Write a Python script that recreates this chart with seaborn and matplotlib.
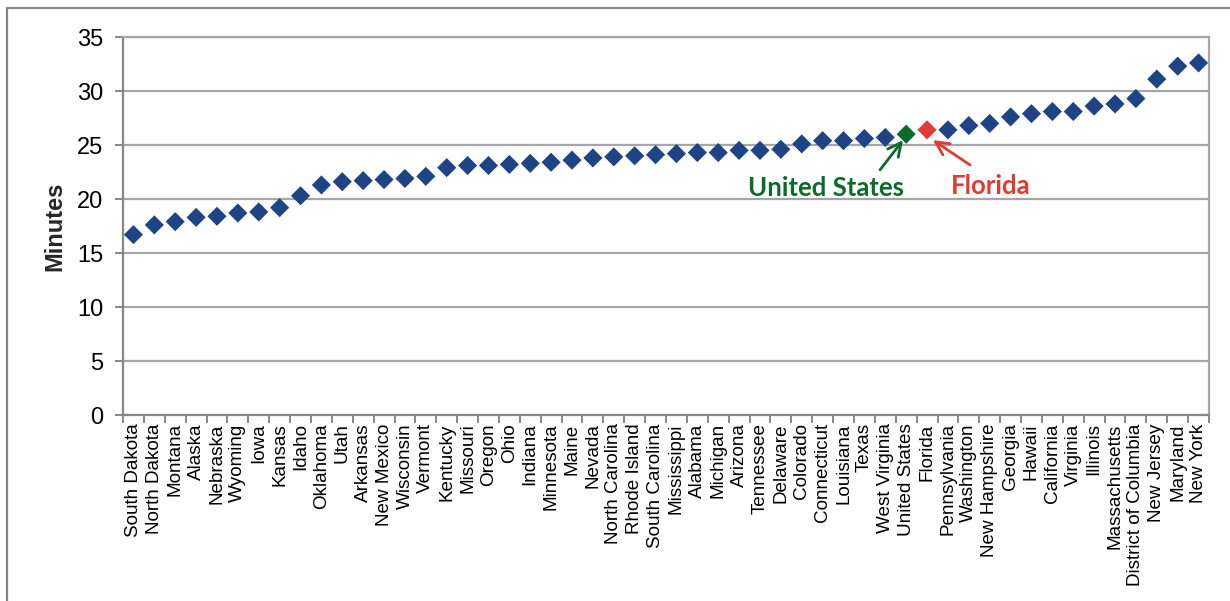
import matplotlib
matplotlib.use("Agg")
import matplotlib.pyplot as plt
from matplotlib.lines import Line2D
from matplotlib.ticker import FixedLocator
import seaborn as sns
import pandas as pd

states = ["South Dakota", "North Dakota", "Montana", "Alaska", "Nebraska", "Wyoming", "Iowa",
          "Kansas", "Idaho", "Oklahoma", "Utah", "Arkansas", "New Mexico", "Wisconsin", "Vermont",
          "Kentucky", "Missouri", "Oregon", "Ohio", "Indiana", "Minnesota", "Maine", "Nevada",
          "North Carolina", "Rhode Island", "South Carolina", "Mississippi", "Alabama", "Michigan",
          "Arizona", "Tennessee", "Delaware", "Colorado", "Connecticut", "Louisiana", "Texas",
          "West Virginia", "United States", "Florida", "Pennsylvania", "Washington",
          "New Hampshire", "Georgia", "Hawaii", "California", "Virginia", "Illinois",
          "Massachusetts", "District of Columbia", "New Jersey", "Maryland", "New York"]
minutes = [16.7, 17.6, 17.9, 18.3, 18.4, 18.7, 18.8,
           19.2, 20.3, 21.3, 21.6, 21.7, 21.8, 21.9, 22.1,
           22.9, 23.1, 23.1, 23.2, 23.3, 23.4, 23.6, 23.8,
           23.9, 24.0, 24.1, 24.2, 24.3, 24.3,
           24.5, 24.5, 24.6, 25.1, 25.4, 25.4, 25.6,
           25.7, 26.0, 26.4, 26.4, 26.8,
           27.0, 27.6, 27.9, 28.1, 28.1, 28.6,
           28.8, 29.3, 31.1, 32.3, 32.6]
y_ticks = [0, 5, 10, 15, 20, 25, 30, 35]

blue = "#1F4485"
green = "#0A6B2A"
red = "#E03A33"
grid_gray = "#A6A6A6"
axis_gray = "#878787"

groups = ["United States" if s == "United States" else ("Florida" if s == "Florida" else "State")
          for s in states]
df = pd.DataFrame({"State": states, "Minutes": minutes, "Group": groups})

sns.set_theme(style="white")
plt.rcParams["font.family"] = ["Liberation Sans", "DejaVu Sans"]

fig = plt.figure(figsize=(12.30, 6.01), dpi=100)
ax = fig.add_axes([123 / 1230, 1 - 415 / 601, (1209 - 123) / 1230, (415 - 37) / 601])

sns.scatterplot(data=df, x="State", y="Minutes", hue="Group",
                palette={"State": blue, "United States": green, "Florida": red},
                marker="D", s=95, edgecolor="none", legend=False, ax=ax, zorder=3)

n = len(states)
ax.set_xlim(-0.5, n - 0.5)
ax.set_ylim(0, 35)
ax.set_yticks(y_ticks)
ax.yaxis.grid(True, color=grid_gray, linewidth=1.6)
ax.set_axisbelow(True)

ax.set_xticks(range(n))
ax.set_xticklabels(states, rotation=90, fontsize=13.6, color="black")
ax.xaxis.set_minor_locator(FixedLocator([i - 0.5 for i in range(n + 1)]))
ax.tick_params(axis="x", which="major", length=0, pad=6)
ax.tick_params(axis="x", which="minor", length=6, width=1.4, color=axis_gray, bottom=True)
ax.tick_params(axis="y", which="major", length=6, width=1.4, color=axis_gray, left=True,
               labelsize=17, labelcolor="black", pad=8)

for side in ["left", "bottom"]:
    ax.spines[side].set_color(axis_gray)
    ax.spines[side].set_linewidth(1.6)
for side in ["top", "right"]:
    ax.spines[side].set_color(grid_gray)
    ax.spines[side].set_linewidth(1.6)

ax.set_xlabel("")
ax.set_ylabel("Minutes", fontsize=17, fontweight="bold", labelpad=8)

ann_font = ["Lato", "DejaVu Sans"]
ax.text(33.16, 21.0, "United States", ha="center", va="center", fontsize=18.5,
        fontweight="bold", color=green, family=ann_font)
ax.text(41.06, 21.2, "Florida", ha="center", va="center", fontsize=18.5,
        fontweight="bold", color=red, family=ann_font)
ax.annotate("", xy=(36.85, 25.45), xytext=(35.75, 22.7),
            arrowprops=dict(arrowstyle="->", color=green, lw=2.0, mutation_scale=24,
                            shrinkA=0, shrinkB=0))
ax.annotate("", xy=(38.28, 25.45), xytext=(40.06, 23.15),
            arrowprops=dict(arrowstyle="->", color=red, lw=2.0, mutation_scale=24,
                            shrinkA=0, shrinkB=0))

# outer chart border (left and top edges visible)
fig.add_artist(Line2D([7 / 1230, 7 / 1230], [0, 1 - 8 / 601], transform=fig.transFigure,
                      color=axis_gray, linewidth=1.6))
fig.add_artist(Line2D([7 / 1230, 1], [1 - 8 / 601, 1 - 8 / 601], transform=fig.transFigure,
                      color=axis_gray, linewidth=1.6))

fig.savefig("out.png", dpi=100)
